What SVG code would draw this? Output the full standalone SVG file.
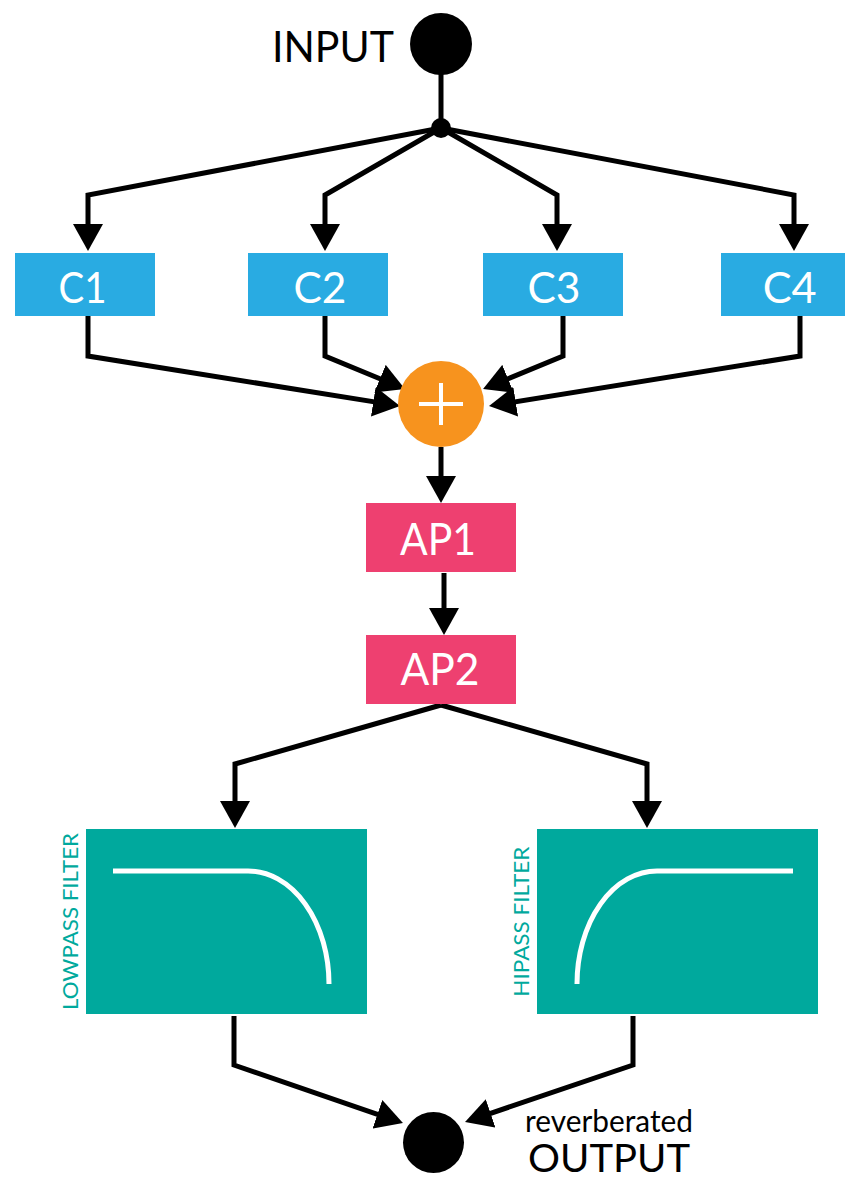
<svg xmlns="http://www.w3.org/2000/svg" width="845" height="1178" viewBox="0 0 845 1178">
  <style>
    .lbl { font-family: Lato, "Open Sans", "Liberation Sans", sans-serif; font-weight: 400; }
    .box-text { fill: #ffffff; text-anchor: middle; }
    .comb { fill: #29abe2; }
    .ap { fill: #ee4070; }
    .filt { fill: #00a99d; }
    .filt-text { fill: #00a99d; text-anchor: middle; font-size: 22px; }
    .curve { fill: none; stroke: #ffffff; stroke-width: 5; }
    .wire { fill: none; stroke: #000000; stroke-width: 5; stroke-linejoin: miter; }
    .arrow { marker-end: url(#head); }
  </style>
  <defs>
    <marker id="head" viewBox="0 0 27 30" refX="17" refY="15" markerWidth="27" markerHeight="30" markerUnits="userSpaceOnUse" orient="auto">
      <path d="M0,0 L27,15 L0,30 Z" fill="#000000"/>
    </marker>
  </defs>

  <!-- connectors -->
  <g id="connectors">
    <line class="wire" x1="441" y1="44" x2="441" y2="128" stroke-width="6"/>
    <polyline class="wire arrow" points="441,128 88,195 88,241"/>
    <polyline class="wire arrow" points="441,128 325,195 325,241"/>
    <polyline class="wire arrow" points="441,128 557,195 557,241"/>
    <polyline class="wire arrow" points="441,128 794,195 794,241"/>

    <polyline class="wire arrow" points="88,316 88,356 390.1,404.4"/>
    <polyline class="wire arrow" points="325,316 325,356 395.7,385.2"/>
    <polyline class="wire arrow" points="563,316 563,356 492.3,385.2"/>
    <polyline class="wire arrow" points="800,316 800,356 498.9,404.4"/>

    <line class="wire arrow" x1="441" y1="447" x2="441" y2="493"/>
    <line class="wire arrow" x1="444" y1="573" x2="444" y2="625"/>

    <polyline class="wire arrow" points="441,705 235,764 235,818"/>
    <polyline class="wire arrow" points="441,705 647,764 647,818"/>

    <polyline class="wire arrow" points="234,1016 234,1065 393.5,1119.8"/>
    <polyline class="wire arrow" points="633,1016 633,1065 474.5,1118.8"/>
  </g>

  <!-- input terminal and split point -->
  <g id="input">
    <circle cx="441" cy="44" r="31" fill="#000000"/>
    <text class="lbl" x="272" y="62" font-size="42" textLength="122" lengthAdjust="spacingAndGlyphs">INPUT</text>
  </g>
  <g id="split">
    <circle cx="441" cy="128" r="10" fill="#000000"/>
  </g>

  <!-- comb filters -->
  <g id="c1">
    <rect class="comb" x="15" y="253" width="140" height="63"/>
    <text class="lbl box-text" x="82.5" y="303" font-size="42" textLength="48" lengthAdjust="spacingAndGlyphs">C1</text>
  </g>
  <g id="c2">
    <rect class="comb" x="248" y="253" width="140" height="63"/>
    <text class="lbl box-text" x="320" y="303" font-size="42" textLength="53" lengthAdjust="spacingAndGlyphs">C2</text>
  </g>
  <g id="c3">
    <rect class="comb" x="483" y="253" width="140" height="63"/>
    <text class="lbl box-text" x="554" y="303" font-size="42" textLength="53" lengthAdjust="spacingAndGlyphs">C3</text>
  </g>
  <g id="c4">
    <rect class="comb" x="721" y="253" width="140" height="63"/>
    <text class="lbl box-text" x="789.7" y="303" font-size="42" textLength="54" lengthAdjust="spacingAndGlyphs">C4</text>
  </g>

  <!-- summing junction -->
  <g id="sum">
    <circle cx="441" cy="404" r="43" fill="#f7931e"/>
    <path d="M419,404 H463 M441,383 V425" stroke="#ffffff" stroke-width="4" fill="none"/>
  </g>

  <!-- all-pass filters -->
  <g id="ap1">
    <rect class="ap" x="366" y="503" width="150" height="69"/>
    <text class="lbl box-text" x="438" y="555" font-size="44" textLength="76" lengthAdjust="spacingAndGlyphs">AP1</text>
  </g>
  <g id="ap2">
    <rect class="ap" x="366" y="635" width="150" height="69"/>
    <text class="lbl box-text" x="440" y="685" font-size="44" textLength="79" lengthAdjust="spacingAndGlyphs">AP2</text>
  </g>

  <!-- lowpass filter -->
  <g id="lowpass">
    <rect class="filt" x="86" y="829" width="281" height="185"/>
    <path class="curve" d="M113,871 H248 A81 113 0 0 1 329,984"/>
    <text class="lbl filt-text" transform="translate(77.5,921.5) rotate(-90)" textLength="177" lengthAdjust="spacingAndGlyphs">LOWPASS FILTER</text>
  </g>

  <!-- hipass filter -->
  <g id="hipass">
    <rect class="filt" x="537" y="829" width="281" height="185"/>
    <path class="curve" d="M577,984 A80 113 0 0 1 657,871 H793"/>
    <text class="lbl filt-text" transform="translate(529,921.7) rotate(-90)" textLength="150" lengthAdjust="spacingAndGlyphs">HIPASS FILTER</text>
  </g>

  <!-- output terminal -->
  <g id="output">
    <circle cx="433.5" cy="1142.5" r="30.5" fill="#000000"/>
    <text class="lbl" x="525" y="1132" font-size="31" textLength="168" lengthAdjust="spacingAndGlyphs">reverberated</text>
    <text class="lbl" x="528" y="1172" font-size="38" textLength="162" lengthAdjust="spacingAndGlyphs">OUTPUT</text>
  </g>
</svg>
